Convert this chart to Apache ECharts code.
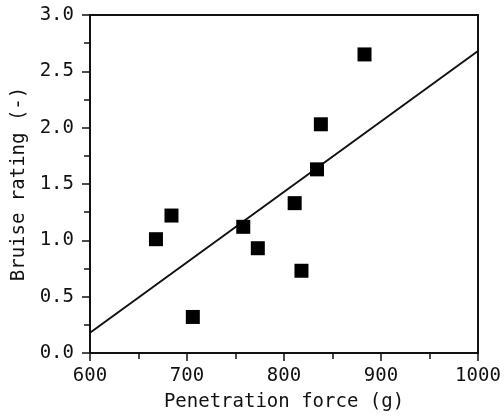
<!DOCTYPE html>
<html>
<head>
<meta charset="utf-8">
<script src="https://cdn.jsdelivr.net/npm/echarts@6/dist/echarts.min.js"></script>
<style>
  html, body { margin: 0; padding: 0; background: #fff; }
</style>
</head>
<body>
<div id="main" style="width: 504px;height:419px;"></div>
<script type="text/javascript">
    var force = [668, 684, 706, 758, 773, 811, 818, 834, 838, 883];
    var bruise = [1.01, 1.22, 0.32, 1.12, 0.93, 1.33, 0.73, 1.63, 2.03, 2.65];
    // fitted line ends
    var fitX = [600, 1000];
    var fitY = [0.18, 2.68];
    var xTicks = [600, 700, 800, 900, 1000];
    var yTicks = [0, 0.5, 1.0, 1.5, 2.0, 2.5, 3.0];

    var font = 'DejaVu Sans Mono';
    var points = force.map(function (x, i) { return [x, bruise[i]]; });
    var fit = fitX.map(function (x, i) { return [x, fitY[i]]; });

    var myChart = echarts.init(document.getElementById('main'));
    var option = {
        animation: false,
        grid: {
            left: 90,
            right: 26,
            top: 15,
            bottom: 66,
            outerBoundsMode: 'none',
            containLabel: false,
            show: true,
            borderColor: '#111',
            borderWidth: 2
        },
        xAxis: {
            type: 'value',
            min: xTicks[0],
            max: xTicks[xTicks.length - 1],
            interval: 100,
            name: 'Penetration force (g)',
            nameLocation: 'middle',
            nameGap: 40,
            nameTextStyle: { fontFamily: font, fontSize: 19, color: '#111' },
            axisLine: { lineStyle: { color: '#111', width: 2 } },
            axisTick: { length: 8, lineStyle: { color: '#111', width: 1.5 } },
            minorTick: { show: true, splitNumber: 2, length: 6, lineStyle: { color: '#111', width: 1.5 } },
            splitLine: { show: false },
            axisLabel: {
                fontFamily: font, fontSize: 19, color: '#111', margin: 14,
                formatter: function (v) { return String(v); }
            }
        },
        yAxis: {
            type: 'value',
            min: yTicks[0],
            max: yTicks[yTicks.length - 1],
            interval: 0.5,
            name: 'Bruise rating (-)',
            nameLocation: 'middle',
            nameGap: 44,
            nameTextStyle: { fontFamily: font, fontSize: 19, color: '#111' },
            axisLine: { lineStyle: { color: '#111', width: 2 } },
            axisTick: { length: 8, lineStyle: { color: '#111', width: 1.5 } },
            minorTick: { show: true, splitNumber: 2, length: 6, lineStyle: { color: '#111', width: 1.5 } },
            splitLine: { show: false },
            axisLabel: {
                fontFamily: font, fontSize: 19, color: '#111', margin: 16,
                formatter: function (v) { return v.toFixed(1); }
            }
        },
        series: [
            {
                type: 'line',
                data: fit,
                symbol: 'none',
                lineStyle: { color: '#111', width: 2 },
                z: 2
            },
            {
                type: 'scatter',
                data: points,
                symbol: 'rect',
                symbolSize: 14,
                itemStyle: { color: '#000', opacity: 1 },
                z: 3
            }
        ]
    };
    myChart.setOption(option);
</script>
</body>
</html>
